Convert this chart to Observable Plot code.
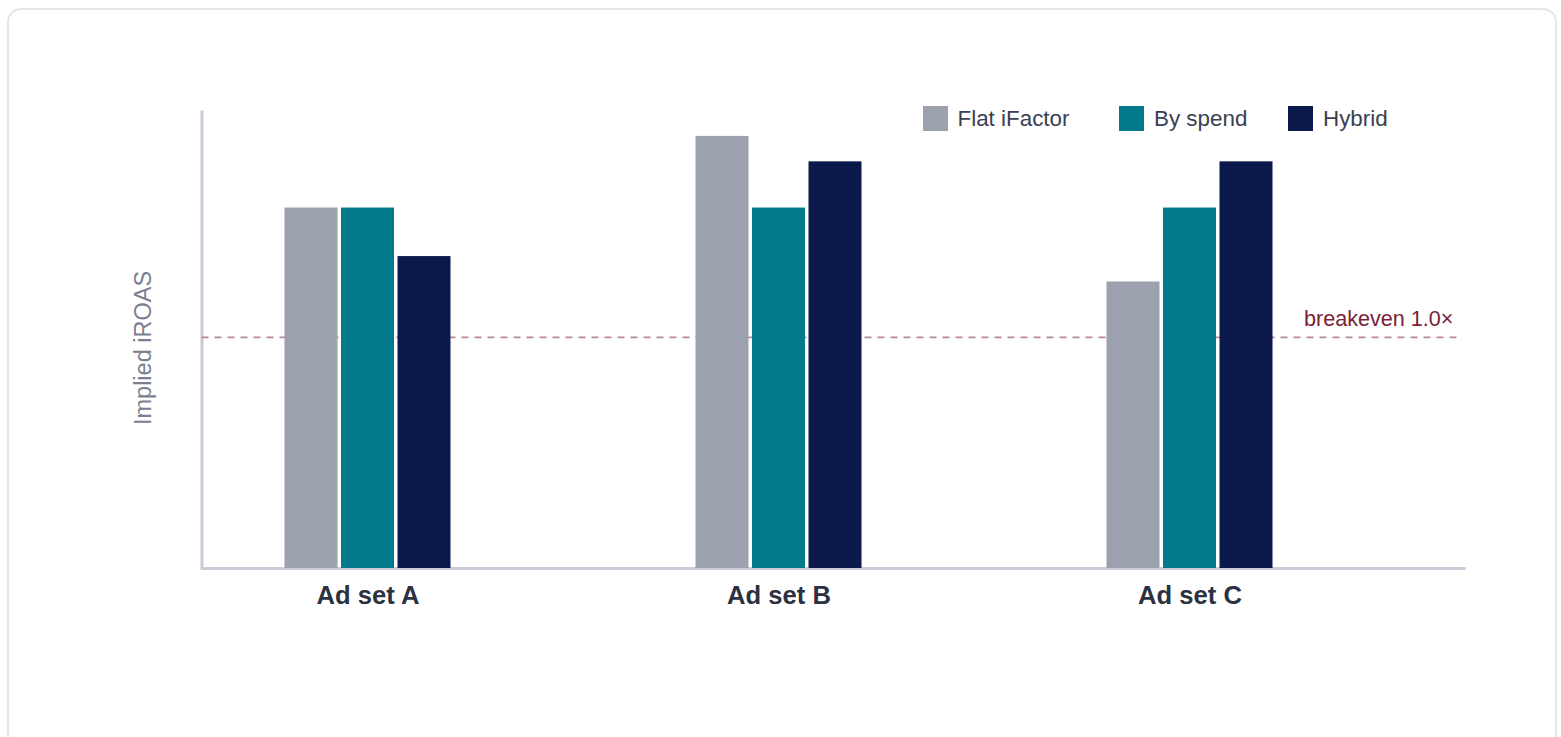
<!DOCTYPE html>
<html>
<head>
<meta charset="utf-8">
<script src="https://cdn.jsdelivr.net/npm/d3@7"></script>
<script src="https://cdn.jsdelivr.net/npm/@observablehq/plot@0.6"></script>
<style>
  html, body { margin: 0; padding: 0; background: #ffffff; }
  body { width: 1561px; height: 737px; position: relative; overflow: hidden;
         font-family: "Liberation Sans", Arial, Helvetica, sans-serif; }
  #card { position: absolute; left: 7px; top: 8px; width: 1550px; height: 800px;
          box-sizing: border-box; border: 2px solid #e4e6eb; border-radius: 14px; background: #fff; }
  #chart { position: absolute; left: 0; top: 0; }
  #legend { position: absolute; top: 106px; left: 0; height: 25px; }
  .item { position: absolute; top: 0; display: flex; align-items: center; height: 25px; white-space: nowrap; }
  .sw { width: 25px; height: 25px; margin-right: 10px; }
  .lab { font-size: 22.4px; color: #3a3f51; line-height: 25px; }
</style>
</head>
<body>
<div id="card"></div>
<div id="chart"></div>
<div id="legend"></div>
<script>
// ---- data ----
const groups = ["Ad set A", "Ad set B", "Ad set C"];
const series = ["Flat iFactor", "By spend", "Hybrid"];
const flatValues = [1.56, 1.87, 1.24];
const spendValues = [1.56, 1.56, 1.56];
const hybridValues = [1.35, 1.76, 1.76];
const seriesColors = ["#9ca1ae", "#037a8b", "#0b1a4a"];
const breakeven = 1.0;
const breakevenLabel = "breakeven 1.0×";
const yLabel = "Implied iROAS";

const valuesBySeries = [flatValues, spendValues, hybridValues];
const data = groups.flatMap((g, gi) =>
  series.map((s, si) => ({ group: g, series: s, value: valuesBySeries[si][gi] })));

const W = 1561, H = 737;
const mL = 201.5, mR = 96, mT = 110, mB = 169;
const fw = W - mL - mR, fh = H - mT - mB;
const yMax = d3.max(data, d => d.value) * 1.06;

const barMarks = series.map((s, si) =>
  Plot.barY(data.filter(d => d.series === s), {
    x: "group", y: "value", fill: "series", dx: (si - 1) * 56.5
  }));

const chart = Plot.plot({
  width: W, height: H,
  marginLeft: mL, marginRight: mR, marginTop: mT, marginBottom: mB,
  style: { background: "transparent", fontFamily: "'Liberation Sans', Arial, Helvetica, sans-serif", overflow: "visible" },
  x: { domain: groups, paddingInner: 0.8712, paddingOuter: 0.4708, align: 0.3587, axis: null },
  y: { domain: [0, yMax], axis: null },
  color: { domain: series, range: seriesColors },
  marks: [
    Plot.frame({ stroke: "#c9ccd8", strokeWidth: 3, fill: "none",
                 strokeDasharray: `0 ${fw + fh} ${fw + fh} 0` }),
    Plot.ruleY([breakeven], { stroke: "#b98694", strokeWidth: 1.8, strokeDasharray: "7,6", insetRight: 8 }),
    ...barMarks,
    Plot.text([breakeven], { y: d => d, text: () => breakevenLabel, frameAnchor: "right",
                 textAnchor: "end", lineAnchor: "bottom", dx: -12, dy: -11,
                 fontSize: 21.6, fill: "#7b1e36" }),
    Plot.text(groups, { x: d => d, text: d => d, frameAnchor: "bottom", lineAnchor: "top",
                 dy: 17, fontSize: 25.6, fontWeight: 700, fill: "#2c3142" }),
    Plot.text([yLabel], { text: d => d, frameAnchor: "left", rotate: -90, dx: -51, dy: 8.5,
                 textAnchor: "middle", lineAnchor: "bottom", fontSize: 23.5, fill: "#7a8090" })
  ]
});
document.getElementById("chart").appendChild(chart);

// legend
const legendX = [922.5, 1119, 1288];
const legend = document.getElementById("legend");
series.forEach((s, i) => {
  const item = document.createElement("div");
  item.className = "item";
  item.style.left = legendX[i] + "px";
  const sw = document.createElement("div");
  sw.className = "sw";
  sw.style.background = seriesColors[i];
  const lab = document.createElement("span");
  lab.className = "lab";
  lab.textContent = s;
  item.appendChild(sw); item.appendChild(lab);
  legend.appendChild(item);
});
</script>
</body>
</html>
